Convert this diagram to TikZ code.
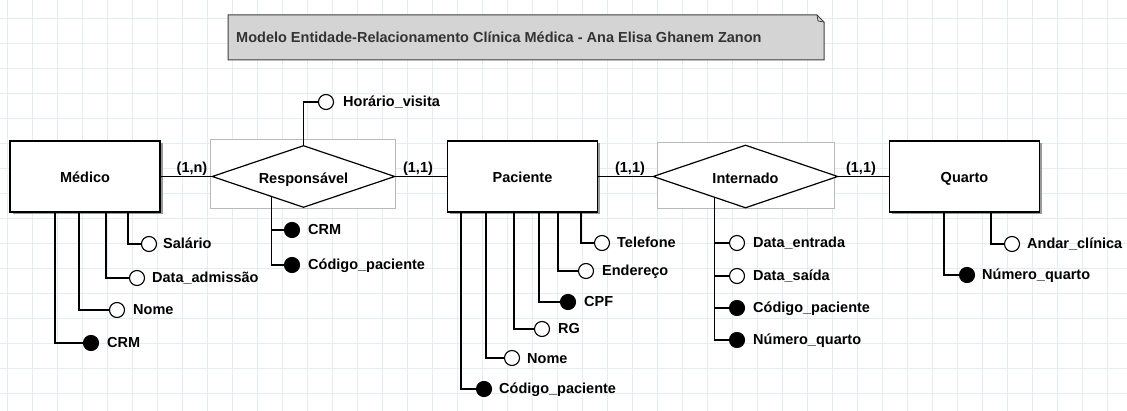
\documentclass[tikz,border=0pt]{standalone}
\usepackage{fontspec}
\setmainfont{Liberation Sans}
\usetikzlibrary{shapes.geometric,shadows,calc}
\definecolor{gridc}{RGB}{228,237,246}
\definecolor{titlefill}{RGB}{212,212,212}
\definecolor{relboxc}{RGB}{185,185,185}
\begin{document}
\begin{tikzpicture}[x=1pt,y=-1pt,
  font=\bfseries\fontsize{14.5}{17}\selectfont,
  entity/.style={draw, line width=1.3pt, fill=white, minimum width=150pt, minimum height=71pt, inner sep=0pt,
    text height=13pt, text depth=0pt,
    drop shadow={shadow xshift=2.5pt, shadow yshift=-2.5pt, fill=black!40, opacity=1}},
  rel/.style={diamond, draw, line width=1.2pt, fill=white, aspect=3, inner sep=0pt, text height=15pt, text depth=0pt},
  relbox/.style={draw=relboxc, line width=1pt, fill=white, inner sep=0pt},
  conn/.style={line width=1.2pt},
  attro/.style={circle, draw, line width=1.1pt, fill=white, minimum size=15pt, inner sep=0pt},
  attrk/.style={attro, fill=black},
  lbl/.style={anchor=base west, inner sep=0pt},
  card/.style={anchor=base, inner sep=0pt}]
\useasboundingbox (0,0) rectangle (1127,411);
\fill[white] (0,0) rectangle (1127,411);
% grid
\foreach \x in {7,32,...,1107} \draw[gridc, line width=0.8pt] (\x,0) -- (\x,411);
\foreach \y in {18,43,...,393} \draw[gridc, line width=0.8pt] (0,\y) -- (1127,\y);

% title
\filldraw[fill=titlefill, draw=black!75, line width=1pt] (228,15) -- (817,15) -- (824,22) -- (824,60) -- (228,60) -- cycle;
\draw[black!75, line width=0.8pt] (817,15) -- (818,21) -- (824,22);
\node[anchor=base west, inner sep=0pt, text=black!80] (title) at (236,43) {Modelo Entidade-Relacionamento Clínica Médica - Ana Elisa Ghanem Zanon};

% relationship boxes
\node[relbox, minimum width=185pt, minimum height=69pt] (respbox) at (302.5,174.5) {};
\node[relbox, minimum width=177pt, minimum height=66pt] (intbox) at (745.5,176) {};

% entities
\node[entity] (medico) at (85,176.5) {Médico};
\node[entity] (paciente) at (522.5,176.5) {Paciente};
\node[entity] (quarto) at (964.5,176.5) {Quarto};

% relationships
\node[rel, minimum width=183pt, minimum height=62pt] (resp) at (303.5,176.5) {Responsável};
\node[rel, minimum width=185pt, minimum height=63pt] (intern) at (745.5,176.5) {Internado};

% relationship connectors
\draw[conn] (medico.east) -- (resp.west);
\draw[conn] (resp.east) -- (paciente.west);
\draw[conn] (paciente.east) -- (intern.west);
\draw[conn] (intern.east) -- (quarto.west);
\node[card] (c1) at (192,172.5) {(1,n)};
\node[card] (c2) at (418,172.5) {(1,1)};
\node[card] (c3) at (630,172.5) {(1,1)};
\node[card] (c4) at (861,172.5) {(1,1)};

% Responsavel attributes
\node[attro] (hv) at (326,102) {};
\node[lbl] (hvl) at (343,107) {Horário\_visita};
\draw[conn] (resp.north) |- (hv.west);
\node[attrk] (rcrm) at (292,230) {};
\node[lbl] (rcrml) at (308,235) {CRM};
\node[attrk] (rcod) at (292,265) {};
\node[lbl] (rcodl) at (308,270) {Código\_paciente};
\draw[conn] ($(resp.west)!0.656!(resp.south)$) |- (rcrm.west);
\draw[conn] ($(resp.west)!0.656!(resp.south)$) |- (rcod.west);

% Medico attributes
\node[attro] (msal) at (149,244) {};
\node[lbl] (msall) at (163,249) {Salário};
\node[attro] (mdat) at (137,278) {};
\node[lbl] (mdatl) at (152,283) {Data\_admissão};
\node[attro] (mnom) at (117,310) {};
\node[lbl] (mnoml) at (133,315) {Nome};
\node[attrk] (mcrm) at (91,343) {};
\node[lbl] (mcrml) at (107,348) {CRM};
\draw[conn] (medico.south -| 128,0) |- (msal.west);
\draw[conn] (medico.south -| 106,0) |- (mdat.west);
\draw[conn] (medico.south -| 79,0) |- (mnom.west);
\draw[conn] (medico.south -| 55,0) |- (mcrm.west);

% Paciente attributes
\node[attro] (ptel) at (602,243) {};
\node[lbl] (ptell) at (617,248) {Telefone};
\node[attro] (pend) at (586,271) {};
\node[lbl] (pendl) at (602,276) {Endereço};
\node[attrk] (pcpf) at (568,302) {};
\node[lbl] (pcpfl) at (584,307) {CPF};
\node[attro] (prg) at (542,329) {};
\node[lbl] (prgl) at (558,334) {RG};
\node[attro] (pnom) at (512,358) {};
\node[lbl] (pnoml) at (527,363) {Nome};
\node[attrk] (pcod) at (484,389) {};
\node[lbl] (pcodl) at (499,394) {Código\_paciente};
\draw[conn] (paciente.south -| 581,0) |- (ptel.west);
\draw[conn] (paciente.south -| 558,0) |- (pend.west);
\draw[conn] (paciente.south -| 539,0) |- (pcpf.west);
\draw[conn] (paciente.south -| 514,0) |- (prg.west);
\draw[conn] (paciente.south -| 486,0) |- (pnom.west);
\draw[conn] (paciente.south -| 461,0) |- (pcod.west);

% Internado attributes
\node[attro] (ient) at (737,243) {};
\node[lbl] (ientl) at (753,248) {Data\_entrada};
\node[attro] (isai) at (737,276) {};
\node[lbl] (isail) at (753,281) {Data\_saída};
\node[attrk] (icod) at (737,308) {};
\node[lbl] (icodl) at (753,313) {Código\_paciente};
\node[attrk] (inum) at (737,340) {};
\node[lbl] (inuml) at (753,345) {Número\_quarto};
\draw[conn] ($(intern.west)!0.67!(intern.south)$) |- (ient.west);
\draw[conn] ($(intern.west)!0.67!(intern.south)$) |- (isai.west);
\draw[conn] ($(intern.west)!0.67!(intern.south)$) |- (icod.west);
\draw[conn] ($(intern.west)!0.67!(intern.south)$) |- (inum.west);

% Quarto attributes
\node[attro] (qand) at (1012,244) {};
\node[lbl] (qandl) at (1027,249) {Andar\_clínica};
\node[attrk] (qnum) at (967,275) {};
\node[lbl] (qnuml) at (982,280) {Número\_quarto};
\draw[conn] (quarto.south -| 991,0) |- (qand.west);
\draw[conn] (quarto.south -| 944,0) |- (qnum.west);
\end{tikzpicture}
\end{document}
